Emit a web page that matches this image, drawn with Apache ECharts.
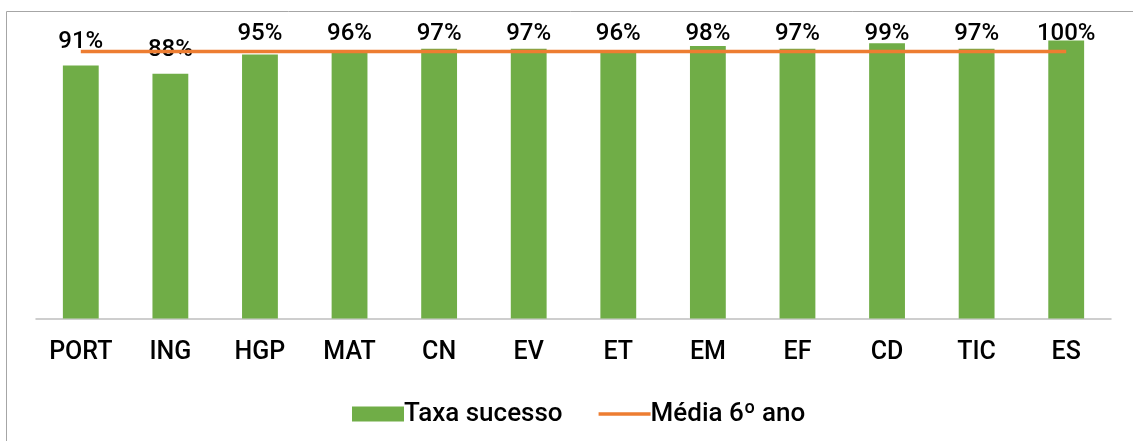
<!DOCTYPE html>
<html><head><meta charset="utf-8">
<script src="https://cdn.jsdelivr.net/npm/echarts@6/dist/echarts.min.js"></script>
<style>html,body{margin:0;padding:0;background:#fff}#c{width:1133px;height:441px}</style>
</head><body><div id="c"></div>
<script>
const categories = ['PORT','ING','HGP','MAT','CN','EV','ET','EM','EF','CD','TIC','ES'];
const taxaSucesso = [91,88,95,96,97,97,96,98,97,99,97,100];
const media6ano = [96,96,96,96,96,96,96,96,96,96,96,96];

const FONT = 'Roboto';
const chart = echarts.init(document.getElementById('c'), null, {renderer:'canvas'});
function build(offsets){
  return {
    animation:false,
    backgroundColor:'#fff',
    textStyle:{fontFamily:FONT},
    graphic:[{type:'rect',shape:{x:6.5,y:11.5,width:1200,height:500},style:{fill:'none',stroke:'#A6A6A6',lineWidth:1},silent:true,z:-10}],
    grid:{left:36,right:22,top:40.5,bottom:122.5,containLabel:false},
    legend:{
      left:347, top:396, itemWidth:52, itemHeight:15, itemGap:36,
      textStyle:{fontFamily:FONT,fontSize:26,fontWeight:500,color:'#000',padding:[0,0,0,-5]},
      data:[{name:'Taxa sucesso',icon:'rect'},{name:'Média 6º ano',icon:'path://M0,0H52V3.5H0Z'}]
    },
    xAxis:{type:'category',data:categories,boundaryGap:true,
      axisLine:{lineStyle:{color:'#BFBFBF',width:1.5}},axisTick:{show:false},
      axisLabel:{color:'#000',fontSize:25,fontWeight:500,fontFamily:FONT,margin:22}},
    yAxis:{type:'value',min:0,max:100,show:false,splitLine:{show:false}},
    series:[
      {name:'Taxa sucesso',type:'bar',barWidth:'40%',itemStyle:{color:'#70AD47'},
       data:taxaSucesso.map((v,i)=>({value:v,label:{offset:[0,offsets?offsets[i]:0]}})),
       label:{show:true,position:'top',distance:12,fontSize:24,fontWeight:500,fontFamily:FONT,color:'#000',formatter:'{c}%'},z:2},
      {name:'Média 6º ano',type:'line',data:media6ano,symbol:'none',
       lineStyle:{color:'#ED7D31',width:3.5},itemStyle:{color:'#ED7D31'},z:5}
    ]
  };
}
chart.setOption(build(null));
const offs = taxaSucesso.map((v,i)=>{
  const top = chart.convertToPixel({seriesIndex:0},[i,v])[1];
  const natural = top - 12;
  const want = Math.max(natural, 46);
  return want - natural;
});
chart.setOption(build(offs));
</script></body></html>
